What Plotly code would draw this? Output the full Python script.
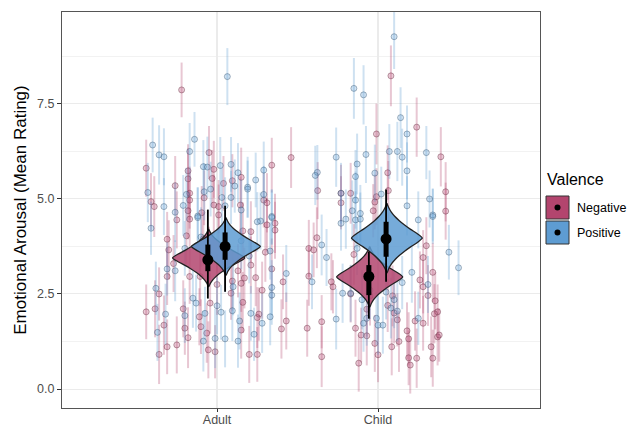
import plotly.graph_objects as go

# ---------------- data ----------------
GROUPS = ["Adult", "Child"]
VALENCES = ["Negative", "Positive"]
Y_TICKS = [0.0, 2.5, 5.0, 7.5]
Y_TICK_LABELS = ["0.0", "2.5", "5.0", "7.5"]

# per-item means: (jitter offset from group centre, mean rating, error half-length)
ADULT_NEG = [
    (-0.22, 7.87, 0.72), (-0.44, 5.81, 0.75), (-0.05, 6.22, 0.70), (0.46, 6.09, 0.80),
    (-0.02, 5.78, 0.75), (0.15, 5.57, 0.78), (0.34, 5.89, 0.72), (-0.18, 5.74, 0.70),
    (-0.18, 5.53, 0.80), (-0.03, 5.54, 0.75), (0.04, 5.41, 0.72), (0.095, 5.48, 0.70),
    (-0.26, 5.35, 0.78), (-0.41, 4.93, 0.75), (-0.39, 4.80, 0.80), (-0.17, 5.15, 0.70),
    (-0.17, 4.97, 0.75), (-0.08, 5.03, 0.72), (-0.02, 4.84, 0.80), (0.01, 4.80, 0.70),
    (0.145, 4.84, 0.75), (0.29, 4.97, 0.72), (0.31, 4.90, 0.78), (-0.18, 4.69, 0.75),
    (-0.095, 4.64, 0.70), (0.01, 4.58, 0.80), (-0.25, 4.45, 0.75), (-0.17, 4.47, 0.72),
    (0.36, 4.36, 0.78), (0.36, 4.18, 0.75), (0.31, 4.32, 0.70), (0.21, 4.14, 0.80),
    (0.16, 4.16, 0.75), (-0.31, 3.94, 0.72), (-0.30, 3.66, 0.78), (-0.19, 4.03, 0.75),
    (-0.085, 3.95, 0.70), (0.34, 3.16, 0.80), (-0.31, 2.96, 0.75), (-0.17, 2.96, 0.72),
    (-0.105, 2.96, 0.78), (0.21, 3.26, 0.75), (0.13, 3.11, 0.70), (0.17, 2.92, 0.80),
    (0.24, 2.93, 0.75), (0.41, 2.82, 0.72), (0.095, 2.84, 0.78), (0.15, 2.78, 0.75),
    (0.087, 2.52, 0.70), (0.16, 2.28, 0.80), (-0.385, 2.11, 0.75), (-0.44, 2.03, 0.72),
    (-0.33, 1.68, 0.78), (-0.21, 2.11, 0.75), (-0.20, 1.60, 0.70), (-0.18, 1.35, 0.80),
    (-0.11, 1.90, 0.75), (-0.10, 1.64, 0.72), (-0.064, 1.47, 0.78), (-0.054, 1.03, 0.75),
    (-0.012, 0.98, 0.70), (-0.043, 2.26, 0.80), (-0.25, 1.16, 0.75), (-0.31, 1.11, 0.72),
    (-0.36, 0.91, 0.78), (0.15, 1.55, 0.75), (0.26, 1.97, 0.70), (0.25, 1.88, 0.80),
    (0.20, 0.91, 0.75), (0.25, 0.91, 0.72), (0.40, 1.58, 0.78), (0.43, 1.79, 0.75),
    (-0.27, 3.30, 0.75), (-0.05, 3.55, 0.72), (0.30, 3.60, 0.78), (0.28, 2.60, 0.75),
    (-0.36, 2.50, 0.70), (0.00, 2.75, 0.80),
]
ADULT_POS = [
    (0.064, 8.22, 0.75), (-0.40, 6.42, 0.72), (-0.36, 6.16, 0.78), (-0.33, 6.11, 0.75),
    (-0.14, 6.57, 0.72), (-0.17, 6.25, 0.75), (-0.085, 5.85, 0.70), (-0.06, 5.84, 0.80),
    (0.02, 5.88, 0.75), (0.087, 5.91, 0.72), (0.13, 5.69, 0.78), (0.29, 5.76, 0.75),
    (0.11, 5.34, 0.70), (0.19, 5.31, 0.80), (0.19, 5.26, 0.75), (0.24, 5.50, 0.72),
    (-0.43, 5.17, 0.78), (-0.33, 4.80, 0.75), (-0.19, 5.12, 0.70), (-0.21, 4.83, 0.80),
    (-0.08, 5.19, 0.75), (-0.04, 5.26, 0.72), (0.03, 5.04, 0.78), (0.05, 4.82, 0.75),
    (0.087, 5.04, 0.70), (0.15, 4.71, 0.80), (0.29, 5.12, 0.75), (0.34, 4.54, 0.72),
    (-0.26, 4.65, 0.78), (-0.12, 4.55, 0.75), (-0.41, 4.23, 0.70), (-0.12, 4.51, 0.80),
    (0.27, 4.42, 0.75), (0.34, 4.51, 0.72), (0.25, 4.40, 0.78), (0.33, 3.63, 0.75),
    (-0.31, 3.16, 0.70), (-0.26, 3.11, 0.80), (0.43, 3.04, 0.75), (0.34, 2.67, 0.72),
    (0.34, 2.47, 0.78), (0.10, 2.69, 0.75), (-0.38, 2.65, 0.70), (-0.32, 1.97, 0.80),
    (-0.37, 1.49, 0.75), (-0.20, 1.93, 0.72), (-0.15, 2.39, 0.78), (-0.13, 2.26, 0.75),
    (-0.075, 1.99, 0.70), (-0.085, 1.26, 0.80), (0.00, 2.19, 0.75), (0.025, 2.02, 0.72),
    (-0.012, 1.33, 0.78), (0.05, 1.32, 0.75), (0.13, 1.26, 0.70), (0.095, 2.06, 0.80),
    (0.14, 1.79, 0.75), (0.21, 1.99, 0.72), (0.28, 1.73, 0.78), (0.33, 1.90, 0.75),
    (0.23, 1.44, 0.70), (0.15, 3.90, 0.75), (0.20, 3.50, 0.72), (-0.10, 4.00, 0.78),
    (0.05, 3.30, 0.75), (-0.20, 3.70, 0.72),
]
CHILD_NEG = [
    (0.08, 8.24, 0.80), (0.24, 6.89, 0.78), (-0.01, 6.71, 0.80), (0.39, 6.11, 0.78),
    (-0.375, 5.22, 0.75), (0.06, 5.69, 0.72), (0.064, 5.22, 0.78), (-0.23, 5.15, 0.75),
    (-0.23, 4.90, 0.70), (-0.17, 5.15, 0.80), (-0.01, 5.06, 0.75), (-0.02, 4.92, 0.72),
    (0.42, 5.19, 0.78), (0.42, 4.68, 0.75), (-0.03, 4.69, 0.70), (-0.38, 3.98, 0.80),
    (-0.43, 3.70, 0.75), (-0.40, 3.66, 0.72), (-0.43, 2.97, 0.78), (-0.29, 2.82, 0.75),
    (-0.28, 2.69, 0.70), (-0.15, 3.54, 0.80), (0.30, 3.77, 0.75), (0.28, 3.46, 0.72),
    (0.34, 3.07, 0.78), (0.26, 2.87, 0.75), (0.28, 2.69, 0.70), (0.31, 2.46, 0.80),
    (0.355, 2.32, 0.75), (0.37, 2.03, 0.72), (0.35, 1.98, 0.78), (0.37, 1.37, 0.75),
    (0.38, 1.42, 0.70), (0.33, 1.11, 0.80), (0.34, 0.81, 0.75), (0.28, 1.73, 0.72),
    (0.23, 1.79, 0.78), (0.18, 1.53, 0.75), (0.19, 1.32, 0.70), (0.13, 1.25, 0.80),
    (0.085, 1.11, 0.75), (0.19, 0.82, 0.72), (0.24, 0.81, 0.78), (0.20, 0.63, 0.75),
    (0.12, 1.82, 0.70), (0.09, 2.45, 0.80), (-0.14, 1.60, 0.75), (-0.105, 1.42, 0.72),
    (-0.07, 1.40, 0.78), (-0.44, 1.60, 0.75), (-0.35, 1.77, 0.70), (-0.35, 0.85, 0.80),
    (-0.12, 0.68, 0.75), (-0.07, 2.10, 0.72), (-0.05, 2.45, 0.78), (-0.17, 2.50, 0.75),
    (0.06, 2.20, 0.70), (0.10, 2.00, 0.80), (-0.02, 1.20, 0.75), (0.00, 0.90, 0.72),
]
CHILD_POS = [
    (0.10, 9.27, 0.85), (-0.15, 7.91, 0.80), (-0.09, 7.74, 0.78), (0.14, 7.14, 0.80),
    (0.18, 6.71, 0.75), (-0.26, 6.10, 0.78), (-0.075, 6.17, 0.75), (0.07, 6.25, 0.72),
    (0.12, 6.25, 0.78), (0.15, 6.10, 0.75), (0.30, 6.22, 0.70), (-0.13, 5.92, 0.80),
    (0.18, 5.74, 0.75), (-0.377, 5.70, 0.72), (-0.39, 5.62, 0.78), (-0.02, 5.68, 0.75),
    (-0.14, 5.59, 0.70), (-0.23, 5.15, 0.80), (-0.14, 4.97, 0.75), (0.02, 5.13, 0.72),
    (0.18, 4.82, 0.78), (0.32, 5.00, 0.75), (0.34, 4.58, 0.70), (-0.16, 4.69, 0.80),
    (-0.11, 4.62, 0.75), (-0.23, 4.36, 0.72), (-0.20, 4.47, 0.78), (-0.14, 4.45, 0.75),
    (-0.11, 4.47, 0.70), (-0.35, 3.79, 0.80), (-0.32, 3.46, 0.75), (-0.41, 2.82, 0.72),
    (-0.22, 2.52, 0.78), (-0.17, 2.52, 0.75), (-0.13, 3.70, 0.70), (0.21, 3.07, 0.80),
    (0.25, 4.45, 0.75), (0.34, 4.54, 0.72), (0.44, 3.60, 0.72), (0.50, 3.19, 0.72),
    (0.31, 2.75, 0.75), (0.25, 1.86, 0.70), (0.08, 2.13, 0.80), (-0.09, 1.73, 0.75),
    (-0.07, 1.86, 0.72), (0.00, 1.68, 0.78), (0.03, 1.68, 0.75), (-0.01, 1.86, 0.70),
    (-0.26, 1.84, 0.80), (-0.05, 2.60, 0.75), (0.05, 2.55, 0.72), (-0.10, 2.35, 0.78),
    (0.10, 2.35, 0.75), (0.15, 2.80, 0.70), (0.12, 2.05, 0.80),
]

# posterior summaries per group, order [Negative, Positive]
POST_MEAN = {"Adult": [3.40, 3.75], "Child": [2.96, 3.95]}
INNER_LO = {"Adult": [3.10, 3.40], "Child": [2.47, 3.48]}
INNER_HI = {"Adult": [3.80, 4.12], "Child": [3.26, 4.40]}
OUTER_LO = {"Adult": [2.38, 2.56], "Child": [1.85, 2.82]}
OUTER_HI = {"Adult": [4.72, 4.82], "Child": [3.61, 5.25]}
VIOLIN_MODE = {"Adult": [3.45, 3.75], "Child": [2.95, 3.97]}
VIOLIN_HALFWIDTH = {"Adult": [0.224, 0.214], "Child": [0.205, 0.220]}
VIOLIN_SPREAD = {"Adult": [0.95, 0.95], "Child": [1.0, 1.15]}
# normalized violin outline (offset from mode, relative half-width)
VIOLIN_DY = [-0.8, -0.7, -0.6, -0.5, -0.4, -0.3, -0.2, -0.1, 0.0,
             0.1, 0.2, 0.3, 0.4, 0.5, 0.6, 0.7, 0.8]
VIOLIN_W = [0.0, 0.05, 0.12, 0.22, 0.35, 0.5, 0.67, 0.86, 1.0,
            0.86, 0.67, 0.5, 0.35, 0.22, 0.12, 0.05, 0.0]

POINTS = {"Adult": [ADULT_NEG, ADULT_POS], "Child": [CHILD_NEG, CHILD_POS]}

# ---------------- styling ----------------
FILL = {"Negative": "#B3456E", "Positive": "#5E9CD2"}
PT_FILL = {"Negative": "rgba(179,69,110,0.28)", "Positive": "rgba(94,156,210,0.28)"}
PT_LINE = {"Negative": "rgba(100,40,60,0.42)", "Positive": "rgba(55,85,115,0.42)"}
ERR_COL = {"Negative": "rgba(179,69,110,0.3)", "Positive": "rgba(94,156,210,0.3)"}
VIOLIN_FILL = {"Negative": "rgba(179,69,110,0.85)", "Positive": "rgba(94,156,210,0.85)"}
DODGE = {"Negative": -0.052, "Positive": 0.055}
FONT = "Liberation Sans, Arial, Helvetica, sans-serif"

fig = go.Figure()

# jittered items with error bars
for gi, g in enumerate(GROUPS):
    for vi, v in enumerate(VALENCES):
        pts = POINTS[g][vi]
        xs = [gi + 1 + p[0] for p in pts]
        ys = [p[1] for p in pts]
        es = [p[2] for p in pts]
        fig.add_trace(go.Scatter(
            x=xs, y=ys, mode="markers", showlegend=False, hoverinfo="skip",
            marker=dict(size=6, color=PT_FILL[v], line=dict(color=PT_LINE[v], width=1)),
            error_y=dict(type="data", array=es, visible=True, color=ERR_COL[v],
                         thickness=2, width=0),
        ))

# violins
for gi, g in enumerate(GROUPS):
    for vi, v in enumerate(VALENCES):
        cx = gi + 1 + DODGE[v]
        mode = VIOLIN_MODE[g][vi]
        hw = VIOLIN_HALFWIDTH[g][vi]
        sp = VIOLIN_SPREAD[g][vi]
        right_x = [cx + w * hw for w in VIOLIN_W]
        right_y = [mode + d * sp for d in VIOLIN_DY]
        left_x = [cx - w * hw for w in reversed(VIOLIN_W)]
        left_y = [mode + d * sp for d in reversed(VIOLIN_DY)]
        fig.add_trace(go.Scatter(
            x=right_x + left_x, y=right_y + left_y, mode="lines", fill="toself",
            fillcolor=VIOLIN_FILL[v],
            line=dict(color="#222222", width=1.3, shape="spline", smoothing=0.6),
            showlegend=False, hoverinfo="skip",
        ))

# posterior intervals and means
for gi, g in enumerate(GROUPS):
    for vi, v in enumerate(VALENCES):
        cx = gi + 1 + DODGE[v] - 0.005
        fig.add_trace(go.Scatter(x=[cx, cx], y=[OUTER_LO[g][vi], OUTER_HI[g][vi]], mode="lines",
                                 line=dict(color="black", width=1.8), showlegend=False, hoverinfo="skip"))
        fig.add_trace(go.Scatter(x=[cx, cx], y=[INNER_LO[g][vi], INNER_HI[g][vi]], mode="lines",
                                 line=dict(color="black", width=5), showlegend=False, hoverinfo="skip"))
        fig.add_trace(go.Scatter(x=[cx], y=[POST_MEAN[g][vi]], mode="markers",
                                 marker=dict(color="black", size=11), showlegend=False, hoverinfo="skip"))

# ---------------- layout ----------------
L, R, T, B = 62, 92, 12, 20
W, H = 632, 428
PW, PH = W - L - R, H - T - B


def px(xp):
    return (xp - L) / PW


def py(yp):
    return (H - B - yp) / PH


shapes = []
annotations = [dict(text="Valence", x=px(545), y=py(179), xref="paper", yref="paper",
                    xanchor="left", yanchor="middle", showarrow=False,
                    font=dict(family=FONT, size=16, color="black"))]
for i, v in enumerate(VALENCES):
    top = 196 + i * 25
    shapes.append(dict(type="rect", xref="paper", yref="paper",
                       x0=px(546), x1=px(569), y0=py(top), y1=py(top + 23),
                       fillcolor=FILL[v], line=dict(color="#333333", width=1)))
    shapes.append(dict(type="circle", xref="paper", yref="paper",
                       x0=px(554.5), x1=px(560.5), y0=py(top + 8.5), y1=py(top + 14.5),
                       fillcolor="black", line=dict(color="black", width=0)))
    annotations.append(dict(text=v, x=px(575), y=py(top + 11.5), xref="paper", yref="paper",
                            xanchor="left", yanchor="middle", showarrow=False,
                            font=dict(family=FONT, size=12.5, color="black")))

fig.update_layout(
    width=W, height=H,
    margin=dict(l=L, r=R, t=T, b=B, pad=0),
    paper_bgcolor="white", plot_bgcolor="white",
    font=dict(family=FONT, color="#4d4d4d"),
    showlegend=False,
    shapes=shapes, annotations=annotations,
    xaxis=dict(range=[0.037, 3.006], tickvals=[1, 2], ticktext=GROUPS, automargin=False,
               showgrid=True, gridcolor="#EBEBEB", gridwidth=1.5, zeroline=False,
               showline=True, linecolor="#555555", linewidth=1, mirror=True,
               ticks="outside", ticklen=3, tickcolor="#333333", ticklabelstandoff=-3,
               tickfont=dict(family=FONT, size=12.5, color="#4d4d4d")),
    yaxis=dict(range=[-0.5, 9.92], tickvals=Y_TICKS, ticktext=Y_TICK_LABELS, automargin=False,
               showgrid=True, gridcolor="#EBEBEB", gridwidth=1.3, zeroline=False,
               minor=dict(tickvals=[1.25, 3.75, 6.25, 8.75], showgrid=True,
                          gridcolor="#F2F2F2", gridwidth=0.8, ticks=""),
               showline=True, linecolor="#555555", linewidth=1, mirror=True,
               ticks="outside", ticklen=4, tickcolor="#333333",
               tickfont=dict(family=FONT, size=12.5, color="#4d4d4d"),
               title=dict(text="Emotional Arousal (Mean Rating)", standoff=6,
                          font=dict(family=FONT, size=17, color="black"))),
)

fig.write_html("out.html", config={"displayModeBar": False},
               post_script="document.body.style.margin='0';document.body.style.padding='0';")
